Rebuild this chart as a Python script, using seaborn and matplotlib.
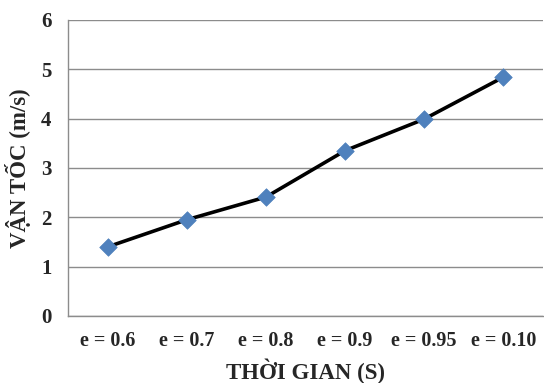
import matplotlib
matplotlib.use("Agg")
import matplotlib.pyplot as plt
import seaborn as sns
import pandas as pd
import numpy as np

categories = ["e = 0.6", "e = 0.7", "e = 0.8", "e = 0.9", "e = 0.95", "e = 0.10"]
velocity = [1.40, 1.95, 2.41, 3.35, 3.99, 4.84]
y_ticks = [0, 1, 2, 3, 4, 5, 6]

sns.set_style("white")
plt.rcParams["font.family"] = ["Liberation Serif", "DejaVu Serif"]
plt.rcParams["font.weight"] = "bold"

df = pd.DataFrame({"cat": pd.Categorical(categories, categories=categories, ordered=True),
                   "v": velocity})

fig = plt.figure(figsize=(5.44, 3.83), dpi=100)
ax = fig.add_axes([0.125, 0.175, 0.873, 0.773])

sns.lineplot(data=df, x="cat", y="v", color="black", linewidth=2.6, sort=False, ax=ax, zorder=3)
sns.scatterplot(data=df, x="cat", y="v", marker="D", s=80, color="#4F81BD",
                edgecolor="#4F81BD", linewidth=0.5, ax=ax, zorder=4)

n = len(categories)
ax.set_xlim(-0.5, n - 0.5)
ax.set_ylim(0, 6)
ax.set_yticks(y_ticks)
ax.grid(axis="y", color="#8c8c8c", linewidth=1.0)
ax.set_axisbelow(True)

ax.set_xticks(np.arange(-0.5, n, 1.0))
ax.set_xticklabels([])
ax.set_xticks(np.arange(n), minor=True)
ax.set_xticklabels(categories, minor=True, fontsize=14.5, fontweight="bold")
ax.tick_params(axis="x", which="major", length=6, color="#8c8c8c", width=1.0)
ax.tick_params(axis="x", which="minor", length=0, pad=11)
ax.tick_params(axis="y", length=6, color="#8c8c8c", width=1.0, labelsize=15, pad=6)
for lab in ax.get_yticklabels():
    lab.set_fontweight("bold")

for side in ["top", "right"]:
    ax.spines[side].set_visible(False)
for side in ["left", "bottom"]:
    ax.spines[side].set_color("#8c8c8c")
    ax.spines[side].set_linewidth(1.0)

ax.set_xlabel("THỜI GIAN (S)", fontsize=16.5, fontweight="bold", labelpad=5)
ax.set_ylabel("VẬN TỐC (m/s)", fontsize=16.5, fontweight="bold", labelpad=7)

fig.savefig("out.png", dpi=100)
